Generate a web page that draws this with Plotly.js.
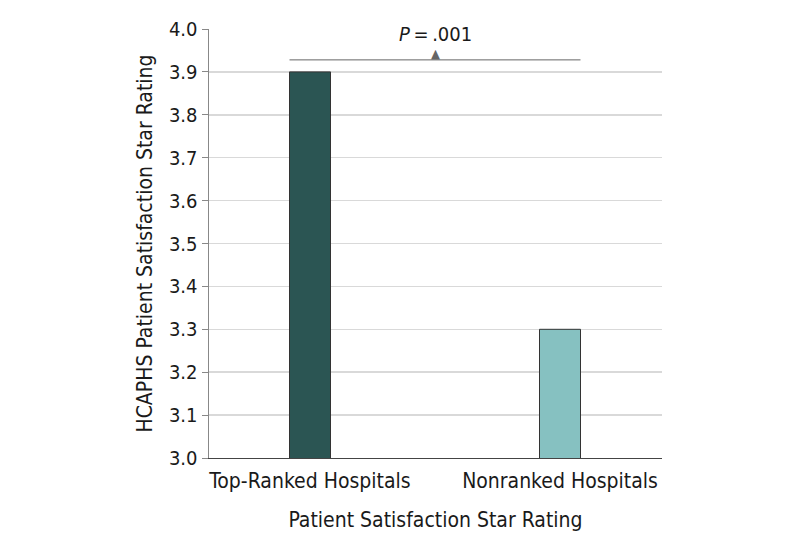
<!DOCTYPE html>
<html><head><meta charset="utf-8">
<script src="https://cdn.plot.ly/plotly-3.0.1.min.js"></script>
<style>html,body{margin:0;padding:0;background:#fff}</style>
</head><body>
<div id="chart" style="width:794px;height:546px"></div>
<script>
const categories = ["Top-Ranked Hospitals", "Nonranked Hospitals"];
const ratings = [3.9, 3.3];
const barColors = ["#2b5553", "#86c1c1"];
const pValueText = "<i>P</i>\u2009=\u2009.001";
const sigLevel = 3.928;
const yTicks = [3.0, 3.1, 3.2, 3.3, 3.4, 3.5, 3.6, 3.7, 3.8, 3.9, 4.0];

const font = "DejaVu Sans Condensed, sans-serif";
const trace = {
  type: "bar",
  x: [0, 1],
  y: ratings,
  width: 0.164,
  marker: {color: barColors, line: {color: "#333", width: 1}},
  hoverinfo: "none"
};
const layout = {
  width: 794, height: 546,
  margin: {l: 209, r: 132, t: 29, b: 88},
  paper_bgcolor: "#fff", plot_bgcolor: "#fff",
  showlegend: false,
  font: {family: font, size: 20, color: "#1a1a1a"},
  xaxis: {
    range: [-0.404, 1.408],
    tickvals: [0, 1], ticktext: categories,
    showgrid: false, zeroline: false,
    showline: true, linecolor: "#444", linewidth: 1,
    ticks: "", tickfont: {size: 21}, ticklabelstandoff: 4,
    title: {text: "Patient Satisfaction Star Rating", font: {size: 21}, standoff: 20}
  },
  yaxis: {
    range: [3.0, 4.0],
    tickvals: yTicks, tickformat: ".1f",
    showgrid: true, gridcolor: "#d9d9d9", gridwidth: 1.5,
    zeroline: false, showline: true, linecolor: "#888", linewidth: 1.5,
    ticks: "outside", ticklen: 6, tickcolor: "#888", tickwidth: 1,
    tickfont: {size: 20},
    title: {text: "HCAPHS Patient Satisfaction Star Rating", font: {size: 21}, standoff: 10}
  },
  shapes: [
    {type: "line", xref: "x", yref: "y", x0: 0 - 0.082, x1: 1 + 0.082, y0: sigLevel, y1: sigLevel,
     line: {color: "#666", width: 1}}
  ],
  annotations: [
    {xref: "x", yref: "y", x: 0.5, y: sigLevel, text: "▲", showarrow: false,
     font: {size: 13, color: "#666"}, yanchor: "bottom", yshift: -3},
    {xref: "x", yref: "y", x: 0.5, y: sigLevel, text: pValueText, showarrow: false,
     font: {size: 20, color: "#1a1a1a"}, yanchor: "bottom", yshift: 12}
  ]
};
Plotly.newPlot("chart", [trace], layout, {staticPlot: true, displayModeBar: false});
</script>
</body></html>
